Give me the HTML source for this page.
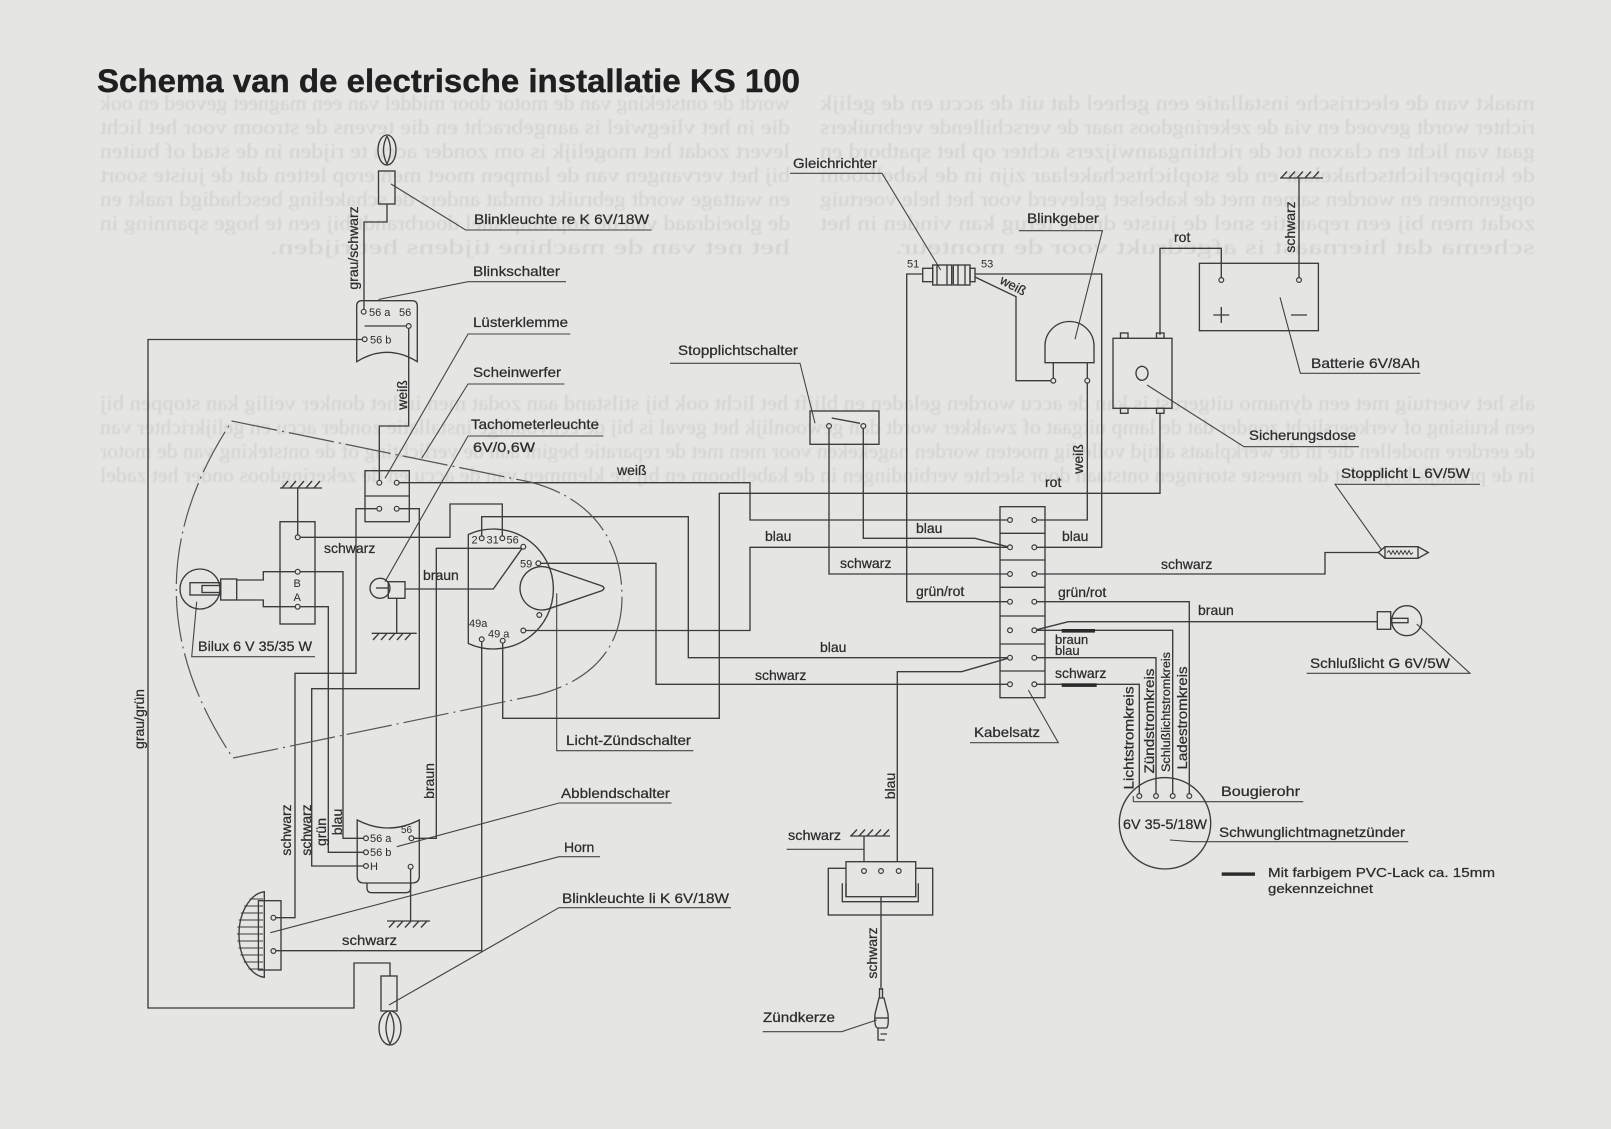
<!DOCTYPE html>
<html><head><meta charset="utf-8"><style>
html,body{margin:0;padding:0;background:#e5e5e3;}
svg{display:block;}
text{font-family:"Liberation Sans",Arial,sans-serif;fill:#2c2c2c;}
.lab text{stroke:#2c2c2c;stroke-width:0.25;}
.w{fill:none;stroke:#3b3b3b;stroke-width:1.35;}
.l{fill:none;stroke:#444;stroke-width:1.1;}
.t{fill:#e5e5e3;stroke:#3b3b3b;stroke-width:1.2;}
.bl text{fill:#d1d1ce;font-size:21px;font-family:"Liberation Serif",serif;}
</style></head><body>
<svg width="1611" height="1129" viewBox="0 0 1611 1129" xmlns="http://www.w3.org/2000/svg">
<defs><filter id="bf" x="0" y="0" width="1" height="1"><feGaussianBlur stdDeviation="0.7"/></filter></defs>
<rect width="1611" height="1129" fill="#e5e5e3"/>

<!-- faint bleed-through text (mirrored) -->
<g class="bl" transform="translate(1611,0) scale(-1,1)" filter="url(#bf)">
<text x="821" y="110" textLength="690" lengthAdjust="spacingAndGlyphs">wordt de ontsteking van de motor door middel van een magneet gevoed en ook</text>
<text x="821" y="134" textLength="690" lengthAdjust="spacingAndGlyphs">die in het vliegwiel is aangebracht en die tevens de stroom voor het licht</text>
<text x="821" y="158" textLength="690" lengthAdjust="spacingAndGlyphs">levert zodat het mogelijk is om zonder accu te rijden in de stad of buiten</text>
<text x="821" y="182" textLength="690" lengthAdjust="spacingAndGlyphs">bij het vervangen van de lampen moet men erop letten dat de juiste soort</text>
<text x="821" y="206" textLength="690" lengthAdjust="spacingAndGlyphs">en wattage wordt gebruikt omdat anders de schakeling beschadigd raakt en</text>
<text x="821" y="230" textLength="690" lengthAdjust="spacingAndGlyphs">de gloeidraad van de koplamp snel doorbrandt bij een te hoge spanning in</text>
<text x="821" y="254" textLength="520" lengthAdjust="spacingAndGlyphs">het net van de machine tijdens het rijden.</text>
<text x="76" y="110" textLength="715" lengthAdjust="spacingAndGlyphs">maakt van de electrische installatie een geheel dat uit de accu en de gelijk</text>
<text x="76" y="134" textLength="715" lengthAdjust="spacingAndGlyphs">richter wordt gevoed en via de zekeringdoos naar de verschillende verbruikers</text>
<text x="76" y="158" textLength="715" lengthAdjust="spacingAndGlyphs">gaat van licht en claxon tot de richtingaanwijzers achter op het spatbord en</text>
<text x="76" y="182" textLength="715" lengthAdjust="spacingAndGlyphs">de knipperlichtschakelaar en de stoplichtschakelaar zijn in de kabelboom</text>
<text x="76" y="206" textLength="715" lengthAdjust="spacingAndGlyphs">opgenomen en worden samen met de kabelset geleverd voor het hele voertuig</text>
<text x="76" y="230" textLength="715" lengthAdjust="spacingAndGlyphs">zodat men bij een reparatie snel de juiste draad terug kan vinden in het</text>
<text x="76" y="254" textLength="640" lengthAdjust="spacingAndGlyphs">schema dat hiernaast is afgedrukt voor de monteur.</text>
<text x="76" y="410" textLength="1435" lengthAdjust="spacingAndGlyphs">als het voertuig met een dynamo uitgerust is kan de accu worden geladen en blijft het licht ook bij stilstand aan zodat men in het donker veilig kan stoppen bij</text>
<text x="76" y="434" textLength="1435" lengthAdjust="spacingAndGlyphs">een kruising of verkeerslicht zonder dat de lamp uitgaat of zwakker wordt dan gewoonlijk het geval is bij de eenvoudige installatie zonder accu en gelijkrichter van</text>
<text x="76" y="458" textLength="1435" lengthAdjust="spacingAndGlyphs">de eerdere modellen die in de werkplaats altijd volledig moeten worden nagekeken voor men met de reparatie begint aan de verlichting of de ontsteking van de motor</text>
<text x="76" y="482" textLength="1435" lengthAdjust="spacingAndGlyphs">in de praktijk blijkt dat de meeste storingen ontstaan door slechte verbindingen in de kabelboom en bij de klemmen van de accu en de zekeringdoos onder het zadel</text>
</g>

<!-- Title -->
<text x="97" y="92" font-size="32" font-weight="bold" textLength="703" lengthAdjust="spacingAndGlyphs" style="fill:#1f1f1f;stroke:#1f1f1f;stroke-width:0.4">Schema van de electrische installatie KS 100</text>

<!-- ================= WIRES ================= -->
<g class="w">
<path d="M387,204 V222 H364 V312"/>
<path d="M365,339.5 H148 V1008 H354 V963 H390 V976"/>
<path d="M408.7,326 V426 H379.3 V482.7"/>
<path d="M396.7,482.7 H750 V520 H1010"/>
<path d="M379.3,508.7 H356 V673.3 H295 V917.7 H273.4"/>
<path d="M396.7,508.7 H419.3 V688.7 H311.7 V866 H366"/>
<path d="M297.7,537.3 V488"/>
<path d="M297.7,537.3 H450 V504 H502.3 V538.3"/>
<path d="M297.7,571.7 H343 V838.3 H366"/>
<path d="M297.7,606.7 H328.3 V852.3 H366"/>
<path d="M236.7,580 H263.3 V571.7 H297.7"/>
<path d="M236.7,600 H263.3 V606.7 H297.7"/>
<path d="M405,589 H493.3 L523.3,546.7"/>
<path d="M396.7,598.3 V633.3"/>
<path d="M411.4,838.3 H436.3 V548.3 H523.3"/>
<path d="M481.7,538.3 V516.7 H688.3 V657.7 H1010"/>
<path d="M538.3,563.3 H656 V684.3 H1010"/>
<path d="M523.3,630.5 H750 V547.3 H1010"/>
<path d="M481.7,639.3 V950.7 H273.4"/>
<path d="M502.7,640.7 V718.3 H719.3 V493.3 H1160 V413"/>
<path d="M410.6,866.7 V921"/>
<path d="M829,426 V574 H1010"/>
<path d="M863.3,426 V538.3 H975 L1010,547.3"/>
<path d="M922.7,274 H906.7 V601.7 H1010"/>
<path d="M975,274 H1101.7 V547.3 H1034.3"/>
<path d="M975,277 L1016,296.7 V380.7 H1053.3"/>
<path d="M1087.3,380.7 V520 H1034.3"/>
<path d="M1053.3,362.7 V380.7 M1087.3,362.7 V380.7"/>
<path d="M1160,335 V248.3 H1221.3 V280"/>
<path d="M1299,280 V178"/>
<path d="M1034.3,574 H1325 V552.5 H1378.3"/>
<path d="M1034.3,601.7 H1189.3 V796"/>
<path d="M1034.3,630.3 L1068.3,621.7 H1377.3"/>
<path d="M1034.3,630.3 H1172.7 V796"/>
<path d="M1034.3,657.7 H1156 V796"/>
<path d="M1034.3,684.3 H1139.3 V796"/>
<path d="M1010,657.7 L961.7,671.7 H897.3 V871"/>
<path d="M864,871 V836"/>
<path d="M881,871 V990"/>
</g>

<!-- ================= LEADER LINES ================= -->
<g class="l">
<path d="M790,173.3 H882 L940.7,270"/>
<path d="M391,184 L465.7,230 H651.6"/>
<path d="M1018.8,230.7 H1102.4 L1075,339.3"/>
<path d="M566,281.7 H468 L378.4,299.5"/>
<path d="M570.3,334 H468 L385,478.3"/>
<path d="M564.4,384 H468 L421.7,458.3"/>
<path d="M603.4,436 H468 L385,581.7"/>
<path d="M670,363.3 H800 L815,423.3"/>
<path d="M1420.3,373.3 H1300.4 L1280,297.3"/>
<path d="M1147,385 L1244,446.7 H1359"/>
<path d="M1480,484.3 H1335 L1381.7,550"/>
<path d="M1306.7,673.3 H1470 L1416.7,624"/>
<path d="M196.7,601.7 L191.7,656.7 H315"/>
<path d="M556.7,593.3 V750.7 H693.3"/>
<path d="M970,742.7 H1058.3 L1028.3,690"/>
<path d="M1133.3,801.7 H1303.3 M1133.3,796 V801.7"/>
<path d="M1170,840 L1191.7,841.7 H1408.3"/>
<path d="M671.6,803 H559 L396.8,846.7"/>
<path d="M600,856.7 H559 L270.3,932.7"/>
<path d="M731,907.7 H559 L389,1005"/>
<path d="M786.7,849.3 H864"/>
<path d="M762.7,1031.7 H841.7 L876.7,1020"/>
</g>

<!-- Headlamp outline (dash-dot) -->
<path d="M232,421 L530,482 C600,500 622,550 622,597 C622,645 595,680 537,695 L233,758 Q120,590 232,421 Z" fill="none" stroke="#555" stroke-width="1.2" stroke-dasharray="46 5 2 5"/>

<!-- ================= COMPONENTS ================= -->
<g fill="none" stroke="#3b3b3b" stroke-width="1.35">
<ellipse cx="387" cy="150" rx="9" ry="15"/>
<path d="M387,136 Q380,150 387,164 Q394,150 387,136"/>
<rect x="378.5" y="171" width="16.5" height="33"/>
<rect x="381" y="976" width="16" height="35"/>
<ellipse cx="390" cy="1028" rx="11" ry="17"/>
<path d="M390,1012 Q382,1028 390,1044 Q398,1028 390,1012"/>
<path d="M356.7,361.7 V306 Q356.7,300.7 362,300.7 H412 Q417.3,300.7 417.3,306 V361.7 Q387,343 356.7,361.7 Z"/>
<path d="M364.6,326 H406"/>
<rect x="365" y="470.7" width="44.3" height="51"/>
<path d="M365,496 H409.3"/>
<rect x="280" y="521.7" width="35" height="102.3"/>
<circle cx="200" cy="589" r="20"/>
<rect x="190" y="582.7" width="30.7" height="12.3"/>
<rect x="202" y="585.5" width="18" height="7"/>
<rect x="220.7" y="579" width="16" height="21"/>
<circle cx="380" cy="588.3" r="10"/>
<rect x="388.3" y="581.7" width="16.7" height="16.6"/>
<path d="M376,588 H388"/>
<path d="M468.3,534.5 A60,60 0 1 1 468.3,643.5 Z"/>
<path d="M549.1,567.9 L602,586 Q606,588.3 602,590.6 L549.1,608.7 A21.7,21.7 0 1 1 549.1,567.9 Z"/>
<path d="M357.2,820 Q388,836 419.3,820 V876 Q419.3,883 412,883 H364 Q357.2,883 357.2,876 Z"/>
<path d="M367,883 V888 Q367,892.7 372,892.7 H405.6 Q410.6,892.7 410.6,888 V883"/>
<path d="M264.3,891.7 A28,43 0 0 0 264.3,977.3 Z"/>
<rect x="258.4" y="900.7" width="22.6" height="69.3"/>
<rect x="922.7" y="268.3" width="10" height="13.4"/>
<rect x="932.7" y="265" width="19" height="20"/>
<rect x="953.3" y="265" width="16.7" height="20"/>
<rect x="970" y="268.3" width="5" height="13.4"/>
<path d="M937,265 V285 M947,265 V285 M958,265 V285 M965,265 V285"/>
<path d="M1045,362.7 V346 A24.5,24.5 0 0 1 1094,346 V362.7 Z"/>
<rect x="1113" y="338.3" width="59" height="70"/>
<rect x="1120.5" y="333" width="7.5" height="5.3"/>
<rect x="1156.5" y="333" width="7.5" height="5.3"/>
<rect x="1120.5" y="408.3" width="7.5" height="5"/>
<rect x="1156.5" y="408.3" width="7.5" height="5"/>
<ellipse cx="1142" cy="373.3" rx="6" ry="7"/>
<rect x="1199.4" y="263.3" width="119" height="67.4"/>
<path d="M1221.3,307 V323 M1213.3,315 H1229.3 M1291,315 H1307"/>
<rect x="810" y="411" width="69" height="33.3"/>
<path d="M831.7,418 L860,423.3"/>
<path d="M1378.3,552.5 L1385,546.7 H1418 L1428.3,552.5 L1418,558.3 H1385 Z M1385,546.7 V558.3 M1418,546.7 V558.3"/>
<path d="M1387,552.5 l2,-2 2,4 2,-4 2,4 2,-4 2,4 2,-4 2,4 2,-4 2,4 2,-4 2,4 2,-2" stroke-width="0.9"/>
<rect x="1377.3" y="611.7" width="13.4" height="17.6"/>
<circle cx="1406.7" cy="620.7" r="15"/>
<rect x="1391" y="618.3" width="17" height="4.4"/>
<rect x="1000" y="506.7" width="45" height="191"/>
<path d="M1000,533.3 H1045 M1000,560 H1045 M1000,587.3 H1045 M1000,616 H1045 M1000,644 H1045 M1000,671 H1045"/>
<circle cx="1165" cy="823.3" r="45.7"/>
<rect x="828.3" y="868.3" width="104.4" height="46.7"/>
<rect x="846" y="861.7" width="69.7" height="35" fill="#e5e5e3"/>
<path d="M842.3,883.3 V901.7 H918.3 V883.3 M846,883.3 V897 M915.7,883.3 V897"/>
<path d="M879.5,988 V998 M882.5,988 V998"/>
<path d="M879,998 L875,1014 Q874,1028 878,1028 H886 Q889,1028 888,1014 L884,998 Z"/>
<path d="M875.5,1018 H888"/>
<path d="M878,1028 V1040 H885 M880.5,1034 H887"/>
<path d="M280,488 H322 M282,488 L288,481 M290,488 L296,481 M298,488 L304,481 M306,488 L312,481 M314,488 L320,481"/>
<path d="M371.7,633.3 H416.7 M373,640 L379,633.3 M381,640 L387,633.3 M389,640 L395,633.3 M397,640 L403,633.3 M405,640 L411,633.3"/>
<path d="M387,921 H430 M389,927.5 L395,921 M397,927.5 L403,921 M405,927.5 L411,921 M413,927.5 L419,921 M421,927.5 L427,921"/>
<path d="M1280,178 H1323 M1281,178 L1287,171.5 M1289,178 L1295,171.5 M1297,178 L1303,171.5 M1305,178 L1311,171.5 M1313,178 L1319,171.5"/>
<path d="M850,836 H890 M851,836 L857,829.5 M859,836 L865,829.5 M867,836 L873,829.5 M875,836 L881,829.5 M883,836 L889,829.5"/>
</g>
<g stroke="#3b3b3b" stroke-width="1.1">
<path d="M249.6,899 H263 M244.2,906 H263 M240.8,913 H263 M238.7,920 H263 M237.4,927 H263 M237,934 H263 M237.3,941 H263 M238.5,948 H263 M240.5,955 H263 M243.7,962 H263 M248.6,969 H263"/>
</g>
<g fill="#2a2a2a">
<rect x="1061.7" y="629" width="33.3" height="3.6"/>
<rect x="1061.7" y="683.3" width="35" height="3.6"/>
<rect x="1221.7" y="872.4" width="33.3" height="3.4"/>
</g>

<!-- terminals -->
<g class="t">
<circle cx="363.7" cy="311.7" r="2.4"/><circle cx="408.7" cy="326" r="2.4"/><circle cx="364.7" cy="339.3" r="2.4"/>
<circle cx="379.3" cy="482.7" r="2.4"/><circle cx="396.7" cy="482.7" r="2.4"/><circle cx="379.3" cy="508.7" r="2.4"/><circle cx="396.7" cy="508.7" r="2.4"/>
<circle cx="297.7" cy="537.3" r="2.4"/><circle cx="297.7" cy="571.7" r="2.4"/><circle cx="297.7" cy="606.7" r="2.4"/>
<circle cx="481.7" cy="538.3" r="2.4"/><circle cx="502.3" cy="538.3" r="2.4"/><circle cx="523.3" cy="546.7" r="2.4"/><circle cx="538.3" cy="563.3" r="2.4"/>
<circle cx="539.3" cy="615" r="2.4"/><circle cx="523.3" cy="630.5" r="2.4"/><circle cx="502.7" cy="640.7" r="2.4"/><circle cx="481.7" cy="639.3" r="2.4"/>
<circle cx="366" cy="838.3" r="2.4"/><circle cx="411.4" cy="838.3" r="2.4"/><circle cx="366" cy="852.3" r="2.4"/><circle cx="366" cy="866" r="2.4"/><circle cx="410.6" cy="866.7" r="2.4"/>
<circle cx="273.4" cy="917.7" r="2.4"/><circle cx="273.4" cy="951" r="2.4"/>
<circle cx="829" cy="426" r="2.4"/><circle cx="863.3" cy="426" r="2.4"/>
<circle cx="1053.3" cy="380.7" r="2.4"/><circle cx="1087.3" cy="380.7" r="2.4"/>
<circle cx="1221.3" cy="280" r="2.4"/><circle cx="1299" cy="280" r="2.4"/>
<circle cx="1010" cy="520" r="2.4"/><circle cx="1034.3" cy="520" r="2.4"/>
<circle cx="1010" cy="547.3" r="2.4"/><circle cx="1034.3" cy="547.3" r="2.4"/>
<circle cx="1010" cy="574" r="2.4"/><circle cx="1034.3" cy="574" r="2.4"/>
<circle cx="1010" cy="601.7" r="2.4"/><circle cx="1034.3" cy="601.7" r="2.4"/>
<circle cx="1010" cy="630.3" r="2.4"/><circle cx="1034.3" cy="630.3" r="2.4"/>
<circle cx="1010" cy="657.7" r="2.4"/><circle cx="1034.3" cy="657.7" r="2.4"/>
<circle cx="1010" cy="684.3" r="2.4"/><circle cx="1034.3" cy="684.3" r="2.4"/>
<circle cx="1139.3" cy="796" r="2.4"/><circle cx="1156" cy="796" r="2.4"/><circle cx="1172.7" cy="796" r="2.4"/><circle cx="1189.3" cy="796" r="2.4"/>
<circle cx="864" cy="871" r="2.4"/><circle cx="881" cy="871" r="2.4"/><circle cx="898.7" cy="871" r="2.4"/>
</g>

<!-- ================= LABELS ================= -->
<g class="lab" font-size="14">
<text x="793" y="168" textLength="84" lengthAdjust="spacingAndGlyphs">Gleichrichter</text>
<text x="474" y="224" textLength="175" lengthAdjust="spacingAndGlyphs">Blinkleuchte re K 6V/18W</text>
<text x="1027" y="223" textLength="72" lengthAdjust="spacingAndGlyphs">Blinkgeber</text>
<text x="1174" y="242">rot</text>
<text x="473" y="276" textLength="87" lengthAdjust="spacingAndGlyphs">Blinkschalter</text>
<text x="473" y="327" textLength="95" lengthAdjust="spacingAndGlyphs">Lüsterklemme</text>
<text x="678" y="355" textLength="120" lengthAdjust="spacingAndGlyphs">Stopplichtschalter</text>
<text x="1311" y="368" textLength="109" lengthAdjust="spacingAndGlyphs">Batterie 6V/8Ah</text>
<text x="473" y="377" textLength="88" lengthAdjust="spacingAndGlyphs">Scheinwerfer</text>
<text x="471" y="429" textLength="128" lengthAdjust="spacingAndGlyphs">Tachometerleuchte</text>
<text x="473" y="452" textLength="62" lengthAdjust="spacingAndGlyphs">6V/0,6W</text>
<text x="1249" y="440" textLength="107" lengthAdjust="spacingAndGlyphs">Sicherungsdose</text>
<text x="617" y="475">weiß</text>
<text x="1045" y="487">rot</text>
<text x="1341" y="478" textLength="129" lengthAdjust="spacingAndGlyphs">Stopplicht L 6V/5W</text>
<text x="916" y="533">blau</text>
<text x="1062" y="541">blau</text>
<text x="765" y="541">blau</text>
<text x="324" y="553">schwarz</text>
<text x="840" y="568">schwarz</text>
<text x="1161" y="569">schwarz</text>
<text x="423" y="580">braun</text>
<text x="916" y="596">grün/rot</text>
<text x="1058" y="597">grün/rot</text>
<text x="1198" y="615">braun</text>
<text x="1055" y="644" font-size="13">braun</text>
<text x="1055" y="655" font-size="13">blau</text>
<text x="198" y="651" textLength="114" lengthAdjust="spacingAndGlyphs">Bilux 6 V 35/35 W</text>
<text x="820" y="652">blau</text>
<text x="1055" y="678">schwarz</text>
<text x="1310" y="668" textLength="140" lengthAdjust="spacingAndGlyphs">Schlußlicht G 6V/5W</text>
<text x="755" y="680">schwarz</text>
<text x="566" y="745" textLength="125" lengthAdjust="spacingAndGlyphs">Licht-Zündschalter</text>
<text x="974" y="737" textLength="66" lengthAdjust="spacingAndGlyphs">Kabelsatz</text>
<text x="561" y="798" textLength="109" lengthAdjust="spacingAndGlyphs">Abblendschalter</text>
<text x="1221" y="796" textLength="79" lengthAdjust="spacingAndGlyphs">Bougierohr</text>
<text x="1123" y="829" textLength="84" lengthAdjust="spacingAndGlyphs">6V 35-5/18W</text>
<text x="1219" y="837" textLength="186" lengthAdjust="spacingAndGlyphs">Schwunglichtmagnetzünder</text>
<text x="564" y="852">Horn</text>
<text x="788" y="840" textLength="53" lengthAdjust="spacingAndGlyphs">schwarz</text>
<text x="562" y="903" textLength="167" lengthAdjust="spacingAndGlyphs">Blinkleuchte li K 6V/18W</text>
<text x="342" y="945" textLength="55" lengthAdjust="spacingAndGlyphs">schwarz</text>
<text x="763" y="1022" textLength="72" lengthAdjust="spacingAndGlyphs">Zündkerze</text>
<text x="1268" y="877" font-size="13" textLength="227" lengthAdjust="spacingAndGlyphs">Mit farbigem PVC-Lack ca. 15mm</text>
<text x="1268" y="893" font-size="13" textLength="105" lengthAdjust="spacingAndGlyphs">gekennzeichnet</text>
<text transform="translate(999,283) rotate(28)" font-size="13">weiß</text>
</g>

<!-- small terminal labels -->
<g font-size="11">
<text x="369" y="316">56 a</text>
<text x="399" y="316">56</text>
<text x="370" y="343.5">56 b</text>
<text x="293.5" y="587">B</text>
<text x="293.5" y="601">A</text>
<text x="471.5" y="543.5">2</text>
<text x="486.5" y="543.5">31</text>
<text x="506.5" y="543.5">56</text>
<text x="520" y="567.5">59</text>
<text x="469" y="627">49a</text>
<text x="488" y="637.5">49 a</text>
<text x="370" y="842">56 a</text>
<text x="401" y="833" font-size="10">56</text>
<text x="370" y="856">56 b</text>
<text x="370" y="870">H</text>
<text x="907" y="267.5">51</text>
<text x="981" y="267.5">53</text>
</g>

<!-- vertical labels -->
<g class="lab" font-size="14" text-anchor="middle">
<text transform="translate(353,248) rotate(-90)" dy="0.35em">grau/schwarz</text>
<text transform="translate(402,395) rotate(-90)" dy="0.35em">weiß</text>
<text transform="translate(1290,227) rotate(-90)" dy="0.35em">schwarz</text>
<text transform="translate(1078,459) rotate(-90)" dy="0.35em">weiß</text>
<text transform="translate(139,719) rotate(-90)" dy="0.35em">grau/grün</text>
<text transform="translate(429,781) rotate(-90)" dy="0.35em">braun</text>
<text transform="translate(286,830) rotate(-90)" dy="0.35em">schwarz</text>
<text transform="translate(306,830) rotate(-90)" dy="0.35em">schwarz</text>
<text transform="translate(321,832) rotate(-90)" dy="0.35em">grün</text>
<text transform="translate(337,822) rotate(-90)" dy="0.35em">blau</text>
<text transform="translate(890,786) rotate(-90)" dy="0.35em">blau</text>
<text transform="translate(872,953) rotate(-90)" dy="0.35em">schwarz</text>
<text transform="translate(1128.5,738) rotate(-90)" dy="0.35em" textLength="103" lengthAdjust="spacingAndGlyphs">Lichtstromkreis</text>
<text transform="translate(1149,721) rotate(-90)" dy="0.35em" textLength="105" lengthAdjust="spacingAndGlyphs">Zündstromkreis</text>
<text transform="translate(1166,712) rotate(-90)" dy="0.35em" font-size="11.5" textLength="120" lengthAdjust="spacingAndGlyphs">Schlußlichtstromkreis</text>
<text transform="translate(1182,718) rotate(-90)" dy="0.35em" textLength="103" lengthAdjust="spacingAndGlyphs">Ladestromkreis</text>
</g>
</svg>
</body></html>
